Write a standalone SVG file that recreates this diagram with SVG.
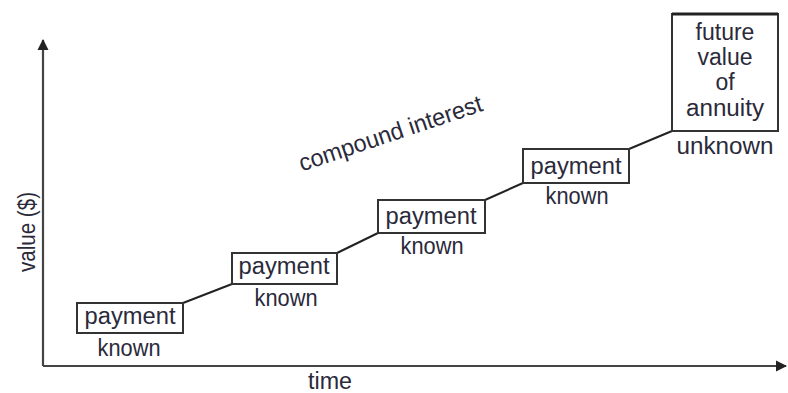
<svg xmlns="http://www.w3.org/2000/svg" width="788" height="393" viewBox="0 0 788 393">
<style>
text{font-family:"Liberation Sans",Arial,sans-serif;font-size:23px;fill:#2a2a3a;text-anchor:middle}
.box{fill:#fff;stroke:#333;stroke-width:2}
.ax{stroke:#444;stroke-width:2.2;fill:none}
.con{stroke:#222;stroke-width:2;fill:none}
</style>
<defs>
<marker id="ah" markerWidth="12" markerHeight="12" refX="10" refY="6" orient="auto" markerUnits="userSpaceOnUse">
<path d="M0,0.5 L11,6 L0,11.5 Z" fill="#222"/>
</marker>
</defs>
<g id="axes">
<line class="ax" x1="43" y1="366" x2="43" y2="40" marker-end="url(#ah)"/>
<line class="ax" x1="43" y1="366" x2="786" y2="366" marker-end="url(#ah)"/>
<text x="330" y="389" textLength="44" lengthAdjust="spacingAndGlyphs">time</text>
<text transform="translate(35,232) rotate(-90)" textLength="80" lengthAdjust="spacingAndGlyphs">value ($)</text>
</g>
<g id="connectors">
<line class="con" x1="183" y1="303" x2="232" y2="284"/>
<line class="con" x1="337" y1="253" x2="378" y2="233"/>
<line class="con" x1="485" y1="200" x2="523" y2="183"/>
<line class="con" x1="629" y1="149" x2="672" y2="131"/>
</g>
<text transform="translate(393,141) rotate(-18.5)" textLength="192" lengthAdjust="spacingAndGlyphs" style="font-size:24px">compound interest</text>
<g id="p1">
<rect class="box" x="77" y="303" width="106" height="30"/>
<text x="130" y="324" textLength="91" lengthAdjust="spacingAndGlyphs">payment</text>
<text x="129" y="356" textLength="63" lengthAdjust="spacingAndGlyphs">known</text>
</g>
<g id="p2">
<rect class="box" x="232" y="253" width="105" height="31"/>
<text x="284" y="274" textLength="91" lengthAdjust="spacingAndGlyphs">payment</text>
<text x="286" y="306" textLength="63" lengthAdjust="spacingAndGlyphs">known</text>
</g>
<g id="p3">
<rect class="box" x="378" y="200" width="107" height="33"/>
<text x="431" y="224" textLength="91" lengthAdjust="spacingAndGlyphs">payment</text>
<text x="432" y="254" textLength="63" lengthAdjust="spacingAndGlyphs">known</text>
</g>
<g id="p4">
<rect class="box" x="523" y="149" width="106" height="34"/>
<text x="576" y="174" textLength="91" lengthAdjust="spacingAndGlyphs">payment</text>
<text x="577" y="204" textLength="63" lengthAdjust="spacingAndGlyphs">known</text>
</g>
<g id="fv">
<rect class="box" x="672" y="14" width="106" height="117"/>
<line x1="672" y1="14" x2="778" y2="14" stroke="#222" stroke-width="3"/>
<text x="725" y="40">future</text>
<text x="725" y="65">value</text>
<text x="725" y="90">of</text>
<text x="725" y="116" textLength="78" lengthAdjust="spacingAndGlyphs">annuity</text>
<text x="725" y="154" textLength="97" lengthAdjust="spacingAndGlyphs">unknown</text>
</g>
</svg>
